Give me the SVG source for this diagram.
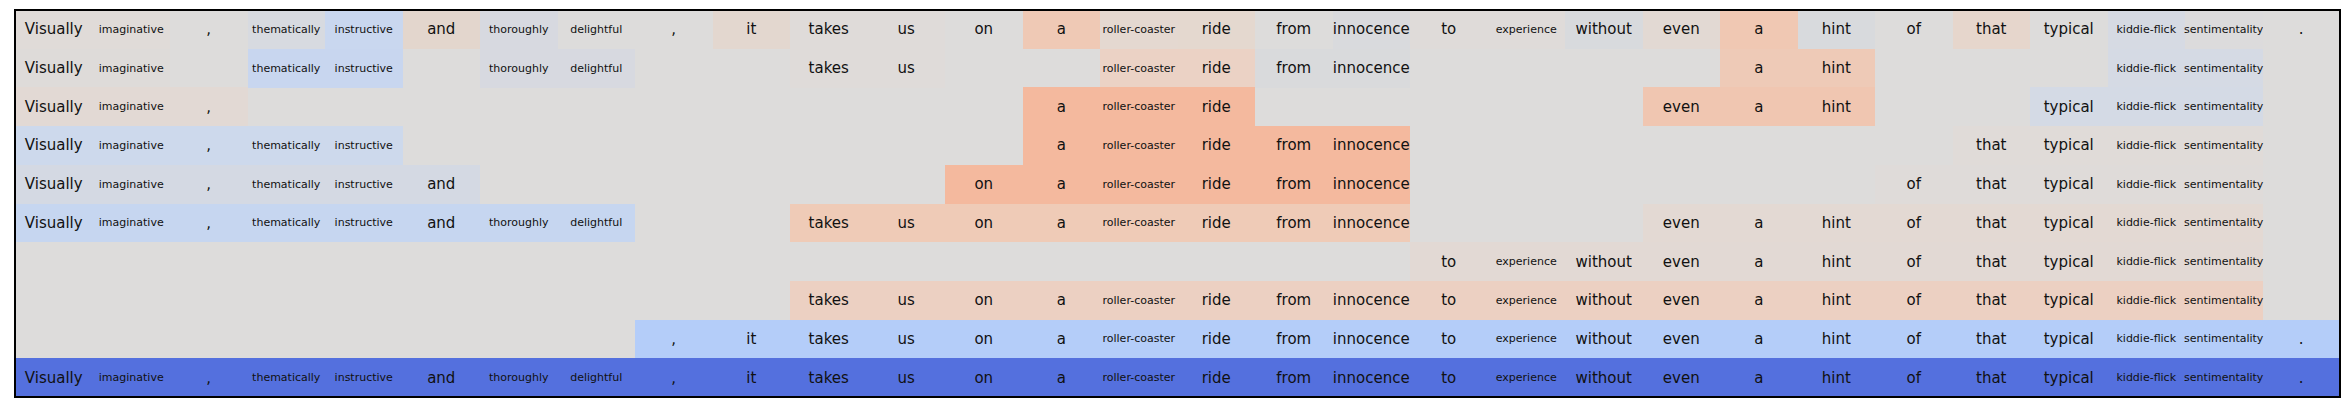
<svg xmlns="http://www.w3.org/2000/svg" width="2349" height="412" viewBox="0 0 2349 412">
<style>
text{font-family:"DejaVu Sans","Liberation Sans",sans-serif;fill:#111;text-anchor:middle}
.L{font-size:15px}
.S{font-size:11px}
rect{shape-rendering:crispEdges}
</style>
<rect x="0" y="0" width="2349" height="412" fill="#ffffff"/>
<rect x="15" y="10" width="2325" height="387" fill="#dddcdb"/>
<g id="row0" transform="translate(0,10)">
<rect x="15" y="0" width="77.6" height="38.8" fill="#e0dbd8"/><text class="L" x="53.75" y="24.35">Visually</text>
<rect x="92.5" y="0" width="77.6" height="38.8" fill="#e0dbd8"/><text class="S" x="131.25" y="22.85">imaginative</text>
<rect x="170" y="0" width="77.6" height="38.8" fill="#dddcdb"/><text class="L" x="208.75" y="24.35">,</text>
<rect x="247.5" y="0" width="77.6" height="38.8" fill="#d7dae0"/><text class="S" x="286.25" y="22.85">thematically</text>
<rect x="325" y="0" width="77.6" height="38.8" fill="#c9d7ef"/><text class="S" x="363.75" y="22.85">instructive</text>
<rect x="402.5" y="0" width="77.6" height="38.8" fill="#e3d6cd"/><text class="L" x="441.25" y="24.35">and</text>
<rect x="480" y="0" width="77.6" height="38.8" fill="#d7d9e0"/><text class="S" x="518.75" y="22.85">thoroughly</text>
<rect x="557.5" y="0" width="77.6" height="38.8" fill="#dddcdb"/><text class="S" x="596.25" y="22.85">delightful</text>
<rect x="635" y="0" width="77.6" height="38.8" fill="#dddcdb"/><text class="L" x="673.75" y="24.35">,</text>
<rect x="712.5" y="0" width="77.6" height="38.8" fill="#e3d7cf"/><text class="L" x="751.25" y="24.35">it</text>
<rect x="790" y="0" width="77.6" height="38.8" fill="#dfdbd9"/><text class="L" x="828.75" y="24.35">takes</text>
<rect x="867.5" y="0" width="77.6" height="38.8" fill="#dfdbd9"/><text class="L" x="906.25" y="24.35">us</text>
<rect x="945" y="0" width="77.6" height="38.8" fill="#dddcdb"/><text class="L" x="983.75" y="24.35">on</text>
<rect x="1022.5" y="0" width="77.6" height="38.8" fill="#efc9b5"/><text class="L" x="1061.25" y="24.35">a</text>
<rect x="1100" y="0" width="77.6" height="38.8" fill="#e4d8d0"/><text class="S" x="1138.75" y="22.85">roller-coaster</text>
<rect x="1177.5" y="0" width="77.6" height="38.8" fill="#e4d8cf"/><text class="L" x="1216.25" y="24.35">ride</text>
<rect x="1255" y="0" width="77.6" height="38.8" fill="#dddcdb"/><text class="L" x="1293.75" y="24.35">from</text>
<rect x="1332.5" y="0" width="77.6" height="38.8" fill="#d9dadd"/><text class="L" x="1371.25" y="24.35">innocence</text>
<rect x="1410" y="0" width="77.6" height="38.8" fill="#dfdbd9"/><text class="L" x="1448.75" y="24.35">to</text>
<rect x="1487.5" y="0" width="77.6" height="38.8" fill="#dfdbd9"/><text class="S" x="1526.25" y="22.85">experience</text>
<rect x="1565" y="0" width="77.6" height="38.8" fill="#d8dadd"/><text class="L" x="1603.75" y="24.35">without</text>
<rect x="1642.5" y="0" width="77.6" height="38.8" fill="#e2d9d3"/><text class="L" x="1681.25" y="24.35">even</text>
<rect x="1720" y="0" width="77.6" height="38.8" fill="#f0c8b3"/><text class="L" x="1758.75" y="24.35">a</text>
<rect x="1797.5" y="0" width="77.6" height="38.8" fill="#d8dadd"/><text class="L" x="1836.25" y="24.35">hint</text>
<rect x="1875" y="0" width="77.6" height="38.8" fill="#dddcdb"/><text class="L" x="1913.75" y="24.35">of</text>
<rect x="1952.5" y="0" width="77.6" height="38.8" fill="#e6d6cc"/><text class="L" x="1991.25" y="24.35">that</text>
<rect x="2030" y="0" width="77.6" height="38.8" fill="#dddcdb"/><text class="L" x="2068.75" y="24.35">typical</text>
<rect x="2107.5" y="0" width="77.6" height="38.8" fill="#d6dae3"/><text class="S" x="2146.25" y="22.85">kiddie-flick</text>
<rect x="2185" y="0" width="77.6" height="38.8" fill="#dcdbdc"/><text class="S" x="2223.75" y="22.85">sentimentality</text>
<rect x="2262.5" y="0" width="77.5" height="38.8" fill="#dddcdb"/><text class="L" x="2301.25" y="24.35">.</text>
</g>
<g id="row1" transform="translate(0,48.7)">
<rect x="15" y="0" width="155" height="38.8" fill="#dedbd9"/>
<text class="L" x="53.75" y="24.35">Visually</text>
<text class="S" x="131.25" y="22.85">imaginative</text>
<rect x="247.5" y="0" width="155" height="38.8" fill="#c8d6ef"/>
<text class="S" x="286.25" y="22.85">thematically</text>
<text class="S" x="363.75" y="22.85">instructive</text>
<rect x="480" y="0" width="155" height="38.8" fill="#d7d9e0"/>
<text class="S" x="518.75" y="22.85">thoroughly</text>
<text class="S" x="596.25" y="22.85">delightful</text>
<rect x="790" y="0" width="155" height="38.8" fill="#dfdbd9"/>
<text class="L" x="828.75" y="24.35">takes</text>
<text class="L" x="906.25" y="24.35">us</text>
<rect x="1100" y="0" width="155" height="38.8" fill="#ebd2c5"/>
<text class="S" x="1138.75" y="22.85">roller-coaster</text>
<text class="L" x="1216.25" y="24.35">ride</text>
<rect x="1255" y="0" width="155" height="38.8" fill="#d9dadc"/>
<text class="L" x="1293.75" y="24.35">from</text>
<text class="L" x="1371.25" y="24.35">innocence</text>
<rect x="1720" y="0" width="155" height="38.8" fill="#eecab7"/>
<text class="L" x="1758.75" y="24.35">a</text>
<text class="L" x="1836.25" y="24.35">hint</text>
<rect x="2107.5" y="0" width="155" height="38.8" fill="#d5dae4"/>
<text class="S" x="2146.25" y="22.85">kiddie-flick</text>
<text class="S" x="2223.75" y="22.85">sentimentality</text>
</g>
<g id="row2" transform="translate(0,87.4)">
<rect x="15" y="0" width="232.5" height="38.8" fill="#e2d9d4"/>
<text class="L" x="53.75" y="24.35">Visually</text>
<text class="S" x="131.25" y="22.85">imaginative</text>
<text class="L" x="208.75" y="24.35">,</text>
<rect x="1022.5" y="0" width="232.5" height="38.8" fill="#f4b99e"/>
<text class="L" x="1061.25" y="24.35">a</text>
<text class="S" x="1138.75" y="22.85">roller-coaster</text>
<text class="L" x="1216.25" y="24.35">ride</text>
<rect x="1642.5" y="0" width="232.5" height="38.8" fill="#f0c6b1"/>
<text class="L" x="1681.25" y="24.35">even</text>
<text class="L" x="1758.75" y="24.35">a</text>
<text class="L" x="1836.25" y="24.35">hint</text>
<rect x="2030" y="0" width="232.5" height="38.8" fill="#d4dae5"/>
<text class="L" x="2068.75" y="24.35">typical</text>
<text class="S" x="2146.25" y="22.85">kiddie-flick</text>
<text class="S" x="2223.75" y="22.85">sentimentality</text>
</g>
<g id="row3" transform="translate(0,126.1)">
<rect x="15" y="0" width="387.5" height="38.8" fill="#cdd9ec"/>
<text class="L" x="53.75" y="24.35">Visually</text>
<text class="S" x="131.25" y="22.85">imaginative</text>
<text class="L" x="208.75" y="24.35">,</text>
<text class="S" x="286.25" y="22.85">thematically</text>
<text class="S" x="363.75" y="22.85">instructive</text>
<rect x="1022.5" y="0" width="387.5" height="38.8" fill="#f4b99e"/>
<text class="L" x="1061.25" y="24.35">a</text>
<text class="S" x="1138.75" y="22.85">roller-coaster</text>
<text class="L" x="1216.25" y="24.35">ride</text>
<text class="L" x="1293.75" y="24.35">from</text>
<text class="L" x="1371.25" y="24.35">innocence</text>
<rect x="1952.5" y="0" width="310" height="38.8" fill="#e0dbd8"/>
<text class="L" x="1991.25" y="24.35">that</text>
<text class="L" x="2068.75" y="24.35">typical</text>
<text class="S" x="2146.25" y="22.85">kiddie-flick</text>
<text class="S" x="2223.75" y="22.85">sentimentality</text>
</g>
<g id="row4" transform="translate(0,164.8)">
<rect x="15" y="0" width="465" height="38.8" fill="#d4d9e3"/>
<text class="L" x="53.75" y="24.35">Visually</text>
<text class="S" x="131.25" y="22.85">imaginative</text>
<text class="L" x="208.75" y="24.35">,</text>
<text class="S" x="286.25" y="22.85">thematically</text>
<text class="S" x="363.75" y="22.85">instructive</text>
<text class="L" x="441.25" y="24.35">and</text>
<rect x="945" y="0" width="465" height="38.8" fill="#f4b99e"/>
<text class="L" x="983.75" y="24.35">on</text>
<text class="L" x="1061.25" y="24.35">a</text>
<text class="S" x="1138.75" y="22.85">roller-coaster</text>
<text class="L" x="1216.25" y="24.35">ride</text>
<text class="L" x="1293.75" y="24.35">from</text>
<text class="L" x="1371.25" y="24.35">innocence</text>
<rect x="1875" y="0" width="387.5" height="38.8" fill="#dfdbd9"/>
<text class="L" x="1913.75" y="24.35">of</text>
<text class="L" x="1991.25" y="24.35">that</text>
<text class="L" x="2068.75" y="24.35">typical</text>
<text class="S" x="2146.25" y="22.85">kiddie-flick</text>
<text class="S" x="2223.75" y="22.85">sentimentality</text>
</g>
<g id="row5" transform="translate(0,203.5)">
<rect x="15" y="0" width="620" height="38.8" fill="#c6d6f0"/>
<text class="L" x="53.75" y="24.35">Visually</text>
<text class="S" x="131.25" y="22.85">imaginative</text>
<text class="L" x="208.75" y="24.35">,</text>
<text class="S" x="286.25" y="22.85">thematically</text>
<text class="S" x="363.75" y="22.85">instructive</text>
<text class="L" x="441.25" y="24.35">and</text>
<text class="S" x="518.75" y="22.85">thoroughly</text>
<text class="S" x="596.25" y="22.85">delightful</text>
<rect x="790" y="0" width="620" height="38.8" fill="#efcbb7"/>
<text class="L" x="828.75" y="24.35">takes</text>
<text class="L" x="906.25" y="24.35">us</text>
<text class="L" x="983.75" y="24.35">on</text>
<text class="L" x="1061.25" y="24.35">a</text>
<text class="S" x="1138.75" y="22.85">roller-coaster</text>
<text class="L" x="1216.25" y="24.35">ride</text>
<text class="L" x="1293.75" y="24.35">from</text>
<text class="L" x="1371.25" y="24.35">innocence</text>
<rect x="1642.5" y="0" width="620" height="38.8" fill="#e3d9d3"/>
<text class="L" x="1681.25" y="24.35">even</text>
<text class="L" x="1758.75" y="24.35">a</text>
<text class="L" x="1836.25" y="24.35">hint</text>
<text class="L" x="1913.75" y="24.35">of</text>
<text class="L" x="1991.25" y="24.35">that</text>
<text class="L" x="2068.75" y="24.35">typical</text>
<text class="S" x="2146.25" y="22.85">kiddie-flick</text>
<text class="S" x="2223.75" y="22.85">sentimentality</text>
</g>
<g id="row6" transform="translate(0,242.2)">
<rect x="1410" y="0" width="852.5" height="38.8" fill="#e2d9d4"/>
<text class="L" x="1448.75" y="24.35">to</text>
<text class="S" x="1526.25" y="22.85">experience</text>
<text class="L" x="1603.75" y="24.35">without</text>
<text class="L" x="1681.25" y="24.35">even</text>
<text class="L" x="1758.75" y="24.35">a</text>
<text class="L" x="1836.25" y="24.35">hint</text>
<text class="L" x="1913.75" y="24.35">of</text>
<text class="L" x="1991.25" y="24.35">that</text>
<text class="L" x="2068.75" y="24.35">typical</text>
<text class="S" x="2146.25" y="22.85">kiddie-flick</text>
<text class="S" x="2223.75" y="22.85">sentimentality</text>
</g>
<g id="row7" transform="translate(0,280.9)">
<rect x="790" y="0" width="1472.5" height="38.8" fill="#ecd0c2"/>
<text class="L" x="828.75" y="24.35">takes</text>
<text class="L" x="906.25" y="24.35">us</text>
<text class="L" x="983.75" y="24.35">on</text>
<text class="L" x="1061.25" y="24.35">a</text>
<text class="S" x="1138.75" y="22.85">roller-coaster</text>
<text class="L" x="1216.25" y="24.35">ride</text>
<text class="L" x="1293.75" y="24.35">from</text>
<text class="L" x="1371.25" y="24.35">innocence</text>
<text class="L" x="1448.75" y="24.35">to</text>
<text class="S" x="1526.25" y="22.85">experience</text>
<text class="L" x="1603.75" y="24.35">without</text>
<text class="L" x="1681.25" y="24.35">even</text>
<text class="L" x="1758.75" y="24.35">a</text>
<text class="L" x="1836.25" y="24.35">hint</text>
<text class="L" x="1913.75" y="24.35">of</text>
<text class="L" x="1991.25" y="24.35">that</text>
<text class="L" x="2068.75" y="24.35">typical</text>
<text class="S" x="2146.25" y="22.85">kiddie-flick</text>
<text class="S" x="2223.75" y="22.85">sentimentality</text>
</g>
<g id="row8" transform="translate(0,319.6)">
<rect x="635" y="0" width="1705" height="38.8" fill="#b4cdf9"/>
<text class="L" x="673.75" y="24.35">,</text>
<text class="L" x="751.25" y="24.35">it</text>
<text class="L" x="828.75" y="24.35">takes</text>
<text class="L" x="906.25" y="24.35">us</text>
<text class="L" x="983.75" y="24.35">on</text>
<text class="L" x="1061.25" y="24.35">a</text>
<text class="S" x="1138.75" y="22.85">roller-coaster</text>
<text class="L" x="1216.25" y="24.35">ride</text>
<text class="L" x="1293.75" y="24.35">from</text>
<text class="L" x="1371.25" y="24.35">innocence</text>
<text class="L" x="1448.75" y="24.35">to</text>
<text class="S" x="1526.25" y="22.85">experience</text>
<text class="L" x="1603.75" y="24.35">without</text>
<text class="L" x="1681.25" y="24.35">even</text>
<text class="L" x="1758.75" y="24.35">a</text>
<text class="L" x="1836.25" y="24.35">hint</text>
<text class="L" x="1913.75" y="24.35">of</text>
<text class="L" x="1991.25" y="24.35">that</text>
<text class="L" x="2068.75" y="24.35">typical</text>
<text class="S" x="2146.25" y="22.85">kiddie-flick</text>
<text class="S" x="2223.75" y="22.85">sentimentality</text>
<text class="L" x="2301.25" y="24.35">.</text>
</g>
<g id="row9" transform="translate(0,358.3)">
<rect x="15" y="0" width="2325" height="38.7" fill="#5470de"/>
<text class="L" x="53.75" y="24.35">Visually</text>
<text class="S" x="131.25" y="22.85">imaginative</text>
<text class="L" x="208.75" y="24.35">,</text>
<text class="S" x="286.25" y="22.85">thematically</text>
<text class="S" x="363.75" y="22.85">instructive</text>
<text class="L" x="441.25" y="24.35">and</text>
<text class="S" x="518.75" y="22.85">thoroughly</text>
<text class="S" x="596.25" y="22.85">delightful</text>
<text class="L" x="673.75" y="24.35">,</text>
<text class="L" x="751.25" y="24.35">it</text>
<text class="L" x="828.75" y="24.35">takes</text>
<text class="L" x="906.25" y="24.35">us</text>
<text class="L" x="983.75" y="24.35">on</text>
<text class="L" x="1061.25" y="24.35">a</text>
<text class="S" x="1138.75" y="22.85">roller-coaster</text>
<text class="L" x="1216.25" y="24.35">ride</text>
<text class="L" x="1293.75" y="24.35">from</text>
<text class="L" x="1371.25" y="24.35">innocence</text>
<text class="L" x="1448.75" y="24.35">to</text>
<text class="S" x="1526.25" y="22.85">experience</text>
<text class="L" x="1603.75" y="24.35">without</text>
<text class="L" x="1681.25" y="24.35">even</text>
<text class="L" x="1758.75" y="24.35">a</text>
<text class="L" x="1836.25" y="24.35">hint</text>
<text class="L" x="1913.75" y="24.35">of</text>
<text class="L" x="1991.25" y="24.35">that</text>
<text class="L" x="2068.75" y="24.35">typical</text>
<text class="S" x="2146.25" y="22.85">kiddie-flick</text>
<text class="S" x="2223.75" y="22.85">sentimentality</text>
<text class="L" x="2301.25" y="24.35">.</text>
</g>
<g id="connectors"></g>
<rect x="15" y="10" width="2325" height="387" fill="none" stroke="#000" stroke-width="1.3"/>
</svg>
